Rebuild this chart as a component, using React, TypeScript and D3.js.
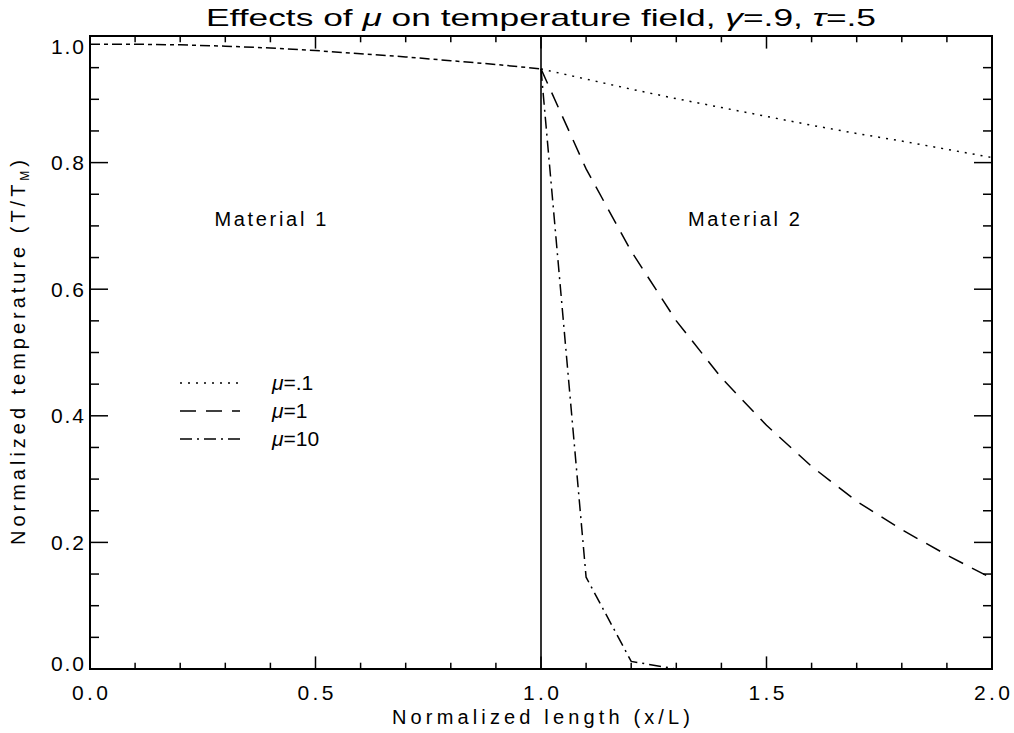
import React from "react";
import * as d3 from "d3";

const xTicks = [0.0, 0.5, 1.0, 1.5, 2.0];
const yTicks = [0.0, 0.2, 0.4, 0.6, 0.8, 1.0];
const xMinor = [0.1, 0.2, 0.3, 0.4, 0.6, 0.7, 0.8, 0.9, 1.1, 1.2, 1.3, 1.4, 1.6, 1.7, 1.8, 1.9];
const yMinor = [0.05, 0.1, 0.15, 0.25, 0.3, 0.35, 0.45, 0.5, 0.55, 0.65, 0.7, 0.75, 0.85, 0.9, 0.95];

const xMat1 = [0.0, 0.1, 0.2, 0.3, 0.4, 0.5, 0.6, 0.7, 0.8, 0.9, 1.0];
const tMat1 = [0.987, 0.987, 0.986, 0.984, 0.981, 0.977, 0.972, 0.967, 0.961, 0.955, 0.948];

const xMat2 = [1.0, 1.1, 1.2, 1.3, 1.4, 1.5, 1.6, 1.7, 1.8, 1.9, 2.0];
const tMu01 = [0.948, 0.932, 0.916, 0.901, 0.887, 0.873, 0.859, 0.846, 0.834, 0.821, 0.808];
const tMu1 = [0.948, 0.79, 0.66, 0.55, 0.46, 0.385, 0.32, 0.265, 0.22, 0.18, 0.143];
const tMu10 = [0.948, 0.145, 0.012, 0.0, 0.0, 0.0, 0.0, 0.0, 0.0, 0.0, 0.0];

const series = [
  { label: ".1", values: tMu01, dash: "2,6" },
  { label: "1", values: tMu1, dash: "16,10" },
  { label: "10", values: tMu10, dash: "12,5,2,5" },
];

const W = 1014, H = 733;
const L = 90, R = 992, T = 36, B = 669;

export default function App() {
  const x = d3.scaleLinear().domain([0, 2]).range([L, R]);
  const y = d3.scaleLinear().domain([0, 1]).range([B, T]);
  const line = d3.line<[number, number]>().x(d => x(d[0])).y(d => y(d[1]));
  const font = "'Liberation Sans', Arial, Helvetica, sans-serif";
  const xMajLen = 12.6, xMinLen = 6.3, yMajLen = 18, yMinLen = 9;
  const mat1 = line(xMat1.map((v, i) => [v, tMat1[i]] as [number, number]));
  const legendY = [383, 411, 439];

  return (
    <svg width={W} height={H} style={{ position: "absolute", left: 0, top: 0, background: "#fff" }}>
      <rect x={0} y={0} width={W} height={H} fill="#fff" />
      {/* title */}
      <text x={(L + R) / 2} y={26} textAnchor="middle" fontFamily={font} fontSize={24}
        textLength={670} lengthAdjust="spacingAndGlyphs" fill="#000">
        Effects of <tspan fontStyle="italic">μ</tspan> on temperature field, <tspan fontStyle="italic">γ</tspan>=.9, <tspan fontStyle="italic">τ</tspan>=.5
      </text>

      {/* ticks */}
      <g stroke="#000" strokeWidth={1.5}>
        {xTicks.map(t => (
          <g key={"xt" + t}>
            <line x1={x(t)} x2={x(t)} y1={B} y2={B - xMajLen} />
            <line x1={x(t)} x2={x(t)} y1={T} y2={T + xMajLen} />
          </g>
        ))}
        {xMinor.map(t => (
          <g key={"xm" + t}>
            <line x1={x(t)} x2={x(t)} y1={B} y2={B - xMinLen} />
            <line x1={x(t)} x2={x(t)} y1={T} y2={T + xMinLen} />
          </g>
        ))}
        {yTicks.map(t => (
          <g key={"yt" + t}>
            <line x1={L} x2={L + yMajLen} y1={y(t)} y2={y(t)} />
            <line x1={R} x2={R - yMajLen} y1={y(t)} y2={y(t)} />
          </g>
        ))}
        {yMinor.map(t => (
          <g key={"ym" + t}>
            <line x1={L} x2={L + yMinLen} y1={y(t)} y2={y(t)} />
            <line x1={R} x2={R - yMinLen} y1={y(t)} y2={y(t)} />
          </g>
        ))}
      </g>
      <rect x={L} y={T} width={R - L} height={B - T} fill="none" stroke="#000" strokeWidth={2} />

      {/* tick labels */}
      {xTicks.map(t => (
        <text key={"xl" + t} x={x(t)} y={700} textAnchor="middle" fontFamily={font} fontSize={21} fill="#000"
          textLength={36} lengthAdjust="spacing">
          {t.toFixed(1)}
        </text>
      ))}
      {yTicks.map(t => (
        <text key={"yl" + t} x={84} y={y(t) + (t === 1 ? 10 : t === 0 ? -6 : 0)} textAnchor="end"
          dominantBaseline="central" fontFamily={font} fontSize={21} fill="#000"
          textLength={33} lengthAdjust="spacing">
          {t.toFixed(1)}
        </text>
      ))}

      {/* axis titles */}
      <text x={(L + R) / 2} y={724} textAnchor="middle" fontFamily={font} fontSize={20} fill="#000"
        textLength={298} lengthAdjust="spacing">
        Normalized length (x/L)
      </text>
      <text transform={`translate(25, ${(T + B) / 2}) rotate(-90)`} textAnchor="middle" fontFamily={font}
        fontSize={20} fill="#000" textLength={385} lengthAdjust="spacing">
        Normalized temperature (T/T<tspan fontSize={12} dy={4}>M</tspan><tspan dy={-4}>)</tspan>
      </text>

      {/* interface line */}
      <line x1={x(1)} x2={x(1)} y1={B} y2={T} stroke="#000" strokeWidth={1.6} />

      {/* curves */}
      <path d={mat1 ?? ""} fill="none" stroke="#000" strokeWidth={1.5} strokeDasharray="10,4,4,4" />
      {series.map(s => (
        <path key={s.label} d={line(xMat2.map((v, i) => [v, s.values[i]] as [number, number])) ?? ""}
          fill="none" stroke="#000" strokeWidth={1.5} strokeDasharray={s.dash} />
      ))}

      {/* region labels */}
      <text x={x(0.4)} y={226} textAnchor="middle" fontFamily={font} fontSize={20} fill="#000"
        textLength={112} lengthAdjust="spacing">Material 1</text>
      <text x={x(1.45)} y={226} textAnchor="middle" fontFamily={font} fontSize={20} fill="#000"
        textLength={112} lengthAdjust="spacing">Material 2</text>

      {/* legend */}
      {series.map((s, i) => (
        <g key={"lg" + s.label}>
          <line x1={180} x2={240} y1={legendY[i]} y2={legendY[i]} stroke="#000" strokeWidth={1.5}
            strokeDasharray={s.dash} />
          <text x={272} y={legendY[i] + 7} fontFamily={font} fontSize={21} fill="#000">
            <tspan fontStyle="italic">μ</tspan>={s.label}
          </text>
        </g>
      ))}
    </svg>
  );
}
